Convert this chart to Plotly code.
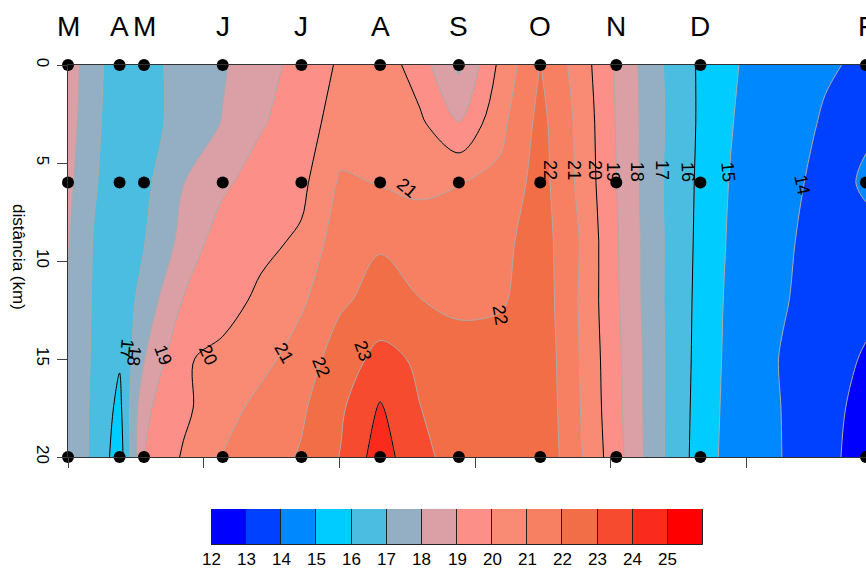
import plotly.graph_objects as go

# ---------------- data ----------------
months = ["M", "A", "M", "J", "J", "A", "S", "O", "N", "D", "F"]
sample_days = [0, 19, 28, 57, 86, 115, 144, 174, 202, 233, 294]
sample_depths = [0, 6, 20]

grid_days = [0, 9.5, 19, 28, 42.5, 57, 71, 86, 100.5, 115, 129.5, 144,
             159, 174, 188, 202, 217, 233, 248, 263.5, 279, 294]
grid_depths = [0, 3, 6, 9, 12, 15, 17.5, 20]

temp_0km = [18.6, 17.25, 16.6, 16.7, 17.3, 17.9, 18.6, 19.35, 20.15, 20.6, 19.5,
            17.8, 20.2, 22.02, 20.6, 18.9, 17.2, 15.85, 14.95, 14.5, 14.1, 13.85]
temp_3km = [18.45, 17.2, 16.5, 16.6, 17.4, 18.05, 18.9, 19.6, 20.4, 20.8, 20.2,
            19.05, 20.7, 22.3, 20.8, 18.95, 17.25, 15.85, 14.8, 14.4, 13.9, 13.95]
temp_6km = [18.25, 17.1, 16.45, 16.75, 17.98, 18.8, 19.5, 19.75, 21.15, 20.95, 20.75,
            20.97, 21.25, 22.4, 20.85, 19.02, 17.2, 15.8, 14.64, 14.15, 13.85, 14.05]
temp_9km = [18.06, 16.95, 16.35, 16.95, 18.3, 19.55, 19.75, 20.15, 21.6, 21.9, 21.6,
            21.45, 21.7, 22.5, 21.05, 19.1, 17.25, 15.75, 14.55, 14.1, 13.75, 13.9]
temp_12km = [17.95, 16.9, 16.3, 17.4, 19.05, 19.6, 20.2, 20.85, 21.85, 22.35, 22.02,
             21.75, 21.85, 22.6, 20.98, 19.15, 17.25, 15.7, 14.45, 14.05, 13.7, 13.35]
temp_15km = [17.9, 16.85, 16.1, 17.95, 19.9, 20.25, 20.7, 21.45, 22.5, 23.3, 22.85,
             22.5, 22.55, 22.7, 21.05, 19.25, 17.3, 15.65, 14.4, 13.95, 13.6, 12.85]
temp_17km = [17.85, 16.8, 15.75, 18.8, 19.8, 20.6, 21.3, 21.85, 22.85, 24.1, 23.02,
             22.6, 22.6, 22.75, 21.1, 19.3, 17.3, 15.6, 14.35, 13.98, 13.35, 12.65]
temp_20km = [17.8, 16.78, 15.5, 19.02, 20.1, 21.05, 21.5, 22.1, 23.05, 24.5, 23.2,
             22.7, 22.65, 22.8, 21.2, 19.4, 17.3, 15.55, 14.3, 13.99, 13.25, 12.6]

levels = list(range(12, 26))
band_colors = ["#0000FF", "#0040FF", "#0088FF", "#00CCFF", "#4ABDE0", "#94AFC4",
               "#DBA0A6", "#FC9089", "#F98A74", "#F77F62", "#F26E47", "#F74B30",
               "#FA2A1D", "#FF0000"]

y_ticks = [0, 5, 10, 15, 20]
x_ticks = [0, 50, 100, 150, 200, 250]

# contour labels: (text, day, km, angle)
contour_labels = [
    ("17", 21.7, 14.49, 95), ("18", 24.3, 14.85, 95), ("19", 35.0, 14.8, 70),
    ("20", 51.6, 14.8, 65), ("21", 79.6, 14.69, 60), ("22", 93.2, 15.41, 68),
    ("23", 108.7, 14.59, 70), ("21", 124.9, 6.28, 40), ("22", 159.2, 12.76, 80),
    ("22", 177.6, 5.36, 90), ("21", 186.4, 5.36, 90), ("20", 194.2, 5.36, 90),
    ("19", 200.8, 5.46, 90), ("18", 209.7, 5.46, 90), ("17", 218.9, 5.36, 90),
    ("16", 228.4, 5.46, 88), ("15", 243.2, 5.46, 85), ("14", 270.5, 6.12, 78),
]

FONT = "Liberation Sans, Arial, Helvetica, sans-serif"
W, H = 866, 568

z = [temp_0km, temp_3km, temp_6km, temp_9km, temp_12km, temp_15km, temp_17km, temp_20km]

# discrete colorscale matching plotly's fill colour lookup
n = len(band_colors)
colorscale = [[0.0, band_colors[0]]] + [[(k + 1) / n, band_colors[k]] for k in range(n)]

fig = go.Figure()

fig.add_trace(go.Contour(
    x=grid_days, y=grid_depths, z=z,
    autocontour=False,
    contours=dict(start=levels[0], end=levels[-1], size=1, coloring="fill"),
    colorscale=colorscale, showscale=False,
    line=dict(color="#ABABAB", width=1, smoothing=1),
    hoverinfo="skip", xaxis="x", yaxis="y",
))

fig.add_trace(go.Contour(
    x=grid_days, y=grid_depths, z=z,
    autocontour=False,
    contours=dict(start=12, end=24, size=4, coloring="none"),
    showscale=False,
    line=dict(color="black", width=1, smoothing=1),
    hoverinfo="skip", xaxis="x", yaxis="y",
))

# sampling points
px, py = [], []
for d in sample_days:
    for k in sample_depths:
        px.append(d)
        py.append(k)
fig.add_trace(go.Scatter(
    x=px, y=py, mode="markers",
    marker=dict(color="black", size=12),
    cliponaxis=False, hoverinfo="skip", xaxis="x", yaxis="y",
))

# legend bar (colour key)
fig.add_trace(go.Bar(
    x=[l + 0.5 for l in levels], y=[1] * len(levels), width=[1] * len(levels),
    marker=dict(color=band_colors, line=dict(color="#222222", width=1)),
    hoverinfo="skip", xaxis="x2", yaxis="y2",
))

annotations = []
for m, d in zip(months, sample_days):
    annotations.append(dict(
        x=d, y=1 - 27 / H, xref="x", yref="paper", text=m, showarrow=False,
        font=dict(family=FONT, size=28, color="black"),
        xanchor="center", yanchor="middle",
    ))
for t, d, k, a in contour_labels:
    annotations.append(dict(
        x=d, y=k, xref="x", yref="y", text=t, showarrow=False, textangle=a,
        font=dict(family=FONT, size=18, color="black"),
        xanchor="center", yanchor="middle",
    ))
for l in levels:
    annotations.append(dict(
        x=l, y=1 - 559 / H, xref="x2", yref="paper", text=str(l), showarrow=False,
        font=dict(family=FONT, size=17, color="black"),
        xanchor="center", yanchor="middle",
    ))
annotations.append(dict(
    x=19 / W, y=1 - 257 / H, xref="paper", yref="paper", text="distância (km)",
    showarrow=False, textangle=90, font=dict(family=FONT, size=17, color="black"),
    xanchor="center", yanchor="middle",
))

fig.update_layout(
    width=W, height=H,
    margin=dict(l=0, r=0, t=0, b=0, autoexpand=False),
    paper_bgcolor="white", plot_bgcolor="white",
    showlegend=False, bargap=0,
    font=dict(family=FONT, size=16, color="black"),
    xaxis=dict(
        domain=[68 / W, 1.0], range=[sample_days[0], sample_days[-1]],
        tickvals=x_ticks, showticklabels=False, ticks="outside", ticklen=10,
        tickcolor="#444444", showgrid=False, zeroline=False, automargin=False,
        showline=True, linecolor="#333333", linewidth=1, mirror=True,
    ),
    yaxis=dict(
        domain=[1 - 457 / H, 1 - 65 / H], range=[20, 0],
        tickvals=y_ticks, tickangle=90, ticks="outside", ticklen=10,
        tickcolor="#444444", tickfont=dict(size=17), automargin=False,
        showgrid=False, zeroline=False,
        showline=True, linecolor="#333333", linewidth=1, mirror=True,
    ),
    xaxis2=dict(
        domain=[211 / W, 703 / W], range=[levels[0], levels[-1] + 1],
        showticklabels=False, ticks="", showgrid=False, zeroline=False,
        showline=False, anchor="y2", automargin=False,
    ),
    yaxis2=dict(
        domain=[1 - 545 / H, 1 - 509 / H], range=[0, 1], visible=False,
        anchor="x2", automargin=False,
    ),
    annotations=annotations,
)

fig.write_html("out.html")
